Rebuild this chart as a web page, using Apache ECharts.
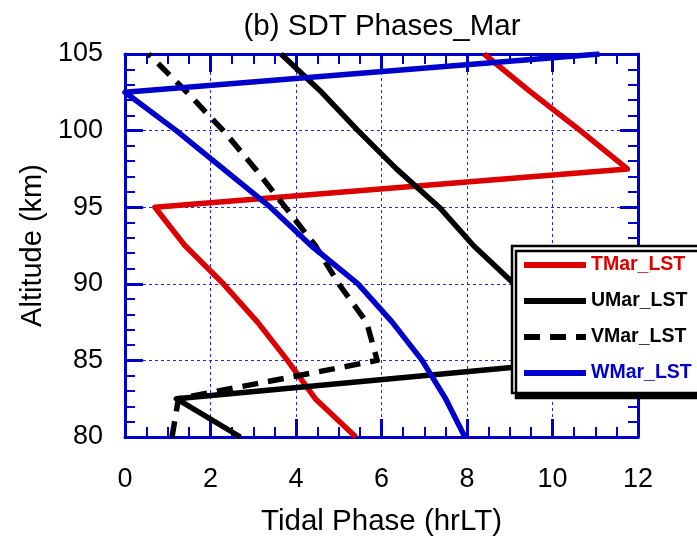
<!DOCTYPE html>
<html>
<head>
<meta charset="utf-8">
<script src="https://cdn.jsdelivr.net/npm/echarts@6/dist/echarts.min.js"></script>
<style>html,body{margin:0;padding:0;background:#fff;}#c{width:697px;height:539px;}</style>
</head>
<body>
<div id="c"></div>
<script>
const altitude = [80, 82.5, 85, 87.5, 90, 92.5, 95, 97.5, 100, 102.5, 105];
const tPhase = [5.4, 4.45, 3.8, 3.1, 2.3, 1.4, 0.7, 11.75, 10.65, 9.5, 8.4];
const uPhase = [2.7, 1.2, 10.8, 9.9, 9.1, 8.15, 7.35, 6.35, 5.45, 4.6, 3.65];
const vPhase = [1.1, 1.25, 5.9, 5.65, 5.0, 4.45, 3.75, 3.05, 2.3, 1.45, 0.55];
const wPhase = [7.95, 7.5, 6.95, 6.25, 5.45, 4.35, 3.4, 2.3, 1.2, 0.0, 11.1];
const seriesNames = ['TMar_LST', 'UMar_LST', 'VMar_LST', 'WMar_LST'];
const xTicks = [0, 2, 4, 6, 8, 10, 12];
const yTicks = [80, 85, 90, 95, 100, 105];

const FONT = '"Liberation Sans", Arial, sans-serif';
const AX = '#0000cc';
const colors = ['#dd0000', '#000000', '#000000', '#0000cc'];
const phases = [tPhase, uPhase, vPhase, wPhase];
const dashes = ['solid', 'solid', [16, 10], 'solid'];

function pairs(arr) { return arr.map((v, i) => [v, altitude[i]]); }

const axisCommon = {
  type: 'value',
  axisLine: { show: true, onZero: false, lineStyle: { color: AX, width: 3 } },
  axisTick: { show: true, inside: true, length: 18, lineStyle: { color: AX, width: 3 } },
  minorTick: { show: true, length: 10, lineStyle: { color: AX, width: 2 } },
};

const chart = echarts.init(document.getElementById('c'), null, { renderer: 'canvas' });
chart.setOption({
  animation: false,
  backgroundColor: '#ffffff',
  title: {
    text: '(b) SDT Phases_Mar',
    left: 377, top: 7, textAlign: 'center',
    textStyle: { fontFamily: FONT, fontSize: 29.5, fontWeight: 'normal', color: '#000' }
  },
  grid: { left: 125, right: 59, top: 54, bottom: 102, containLabel: false, outerBoundsMode: 'none' },
  legend: {
    orient: 'vertical',
    left: 512, top: 246,
    padding: [9, 30, 10, 9],
    itemWidth: 62, itemHeight: 20, itemGap: 16,
    backgroundColor: '#ffffff',
    borderColor: '#000000', borderWidth: 2.5, borderRadius: 0,
    shadowColor: '#000000', shadowBlur: 0, shadowOffsetX: 4, shadowOffsetY: 5,
    itemStyle: { opacity: 0 },
    textStyle: { fontFamily: FONT, fontSize: 19.5, fontWeight: 'bold' },
    data: seriesNames.map((n, i) => ({
      name: n,
      textStyle: { color: colors[i] },
      lineStyle: { color: colors[i], width: 6, type: dashes[i], cap: 'butt' }
    }))
  },
  xAxis: [
    Object.assign({}, axisCommon, {
      position: 'bottom', min: 0, max: 12, interval: 2,
      minorTick: Object.assign({}, axisCommon.minorTick, { splitNumber: 4 }),
      axisLabel: { show: true, margin: 29, fontFamily: FONT, fontSize: 27, color: '#000',
        formatter: v => (xTicks.indexOf(v) >= 0 ? String(v) : '') },
      splitLine: { show: true, lineStyle: { color: '#2222ee', width: 1, type: [3, 3] } },
      name: 'Tidal Phase (hrLT)', nameLocation: 'middle', nameGap: 70,
      nameTextStyle: { fontFamily: FONT, fontSize: 29.5, color: '#000' }
    }),
    Object.assign({}, axisCommon, {
      position: 'top', min: 0, max: 12, interval: 2,
      minorTick: Object.assign({}, axisCommon.minorTick, { splitNumber: 4 }),
      axisLabel: { show: false }, splitLine: { show: false }
    })
  ],
  yAxis: [
    Object.assign({}, axisCommon, {
      position: 'left', min: 80, max: 105, interval: 5,
      minorTick: Object.assign({}, axisCommon.minorTick, { splitNumber: 5 }),
      axisLabel: { show: true, margin: 22, fontFamily: FONT, fontSize: 27, color: '#000',
        formatter: v => (yTicks.indexOf(v) >= 0 ? String(v) : '') },
      splitLine: { show: true, lineStyle: { color: '#2222ee', width: 1, type: [3, 3] } },
      name: 'Altitude (km)', nameLocation: 'middle', nameGap: 69, nameRotate: 90,
      nameTextStyle: { fontFamily: FONT, fontSize: 29, color: '#000' }
    }),
    Object.assign({}, axisCommon, {
      position: 'right', min: 80, max: 105, interval: 5,
      minorTick: Object.assign({}, axisCommon.minorTick, { splitNumber: 5 }),
      axisLabel: { show: false }, splitLine: { show: false }
    })
  ],
  series: seriesNames.map((n, i) => ({
    name: n, type: 'line', xAxisIndex: 0, yAxisIndex: 0,
    data: pairs(phases[i]),
    symbol: 'none', showSymbol: false, smooth: false,
    lineStyle: { color: colors[i], width: 5.5, type: dashes[i], cap: 'butt', join: 'round' },
    itemStyle: { color: colors[i] },
    z: 2 + i
  }))
});
</script>
</body>
</html>
